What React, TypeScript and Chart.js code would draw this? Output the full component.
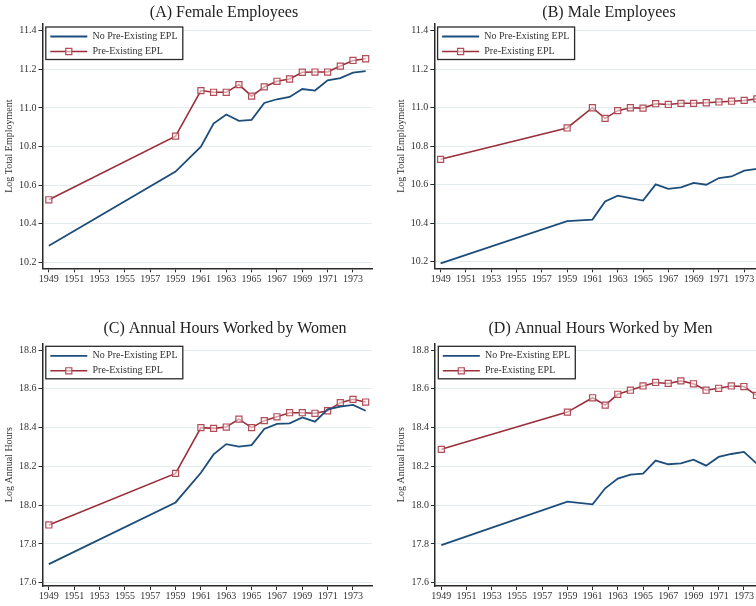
import React, { useEffect, useRef } from "react";
import { Chart, registerables } from "chart.js";

Chart.register(...registerables);

// ---------- data ----------
const years = [1949, 1959, 1961, 1962, 1963, 1964, 1965, 1966, 1967, 1968, 1969, 1970, 1971, 1972, 1973, 1974];
const xTickYears = [1949, 1951, 1953, 1955, 1957, 1959, 1961, 1963, 1965, 1967, 1969, 1971, 1973];
const employmentTicks = [10.2, 10.4, 10.6, 10.8, 11.0, 11.2, 11.4];
const hoursTicks = [17.6, 17.8, 18.0, 18.2, 18.4, 18.6, 18.8];
const seriesLabels = ["No Pre-Existing EPL", "Pre-Existing EPL"];

const femaleEmpNoEPL = [10.286, 10.670, 10.799, 10.919, 10.966, 10.933, 10.938, 11.026, 11.045, 11.057, 11.098, 11.090, 11.143, 11.155, 11.183, 11.191];
const femaleEmpEPL = [10.524, 10.854, 11.090, 11.081, 11.081, 11.121, 11.061, 11.109, 11.138, 11.150, 11.185, 11.186, 11.186, 11.217, 11.246, 11.255];

const maleEmpNoEPL = [10.191, 10.410, 10.418, 10.512, 10.542, 10.529, 10.517, 10.601, 10.578, 10.585, 10.609, 10.599, 10.634, 10.642, 10.672, 10.682];
const maleEmpEPL = [10.731, 10.894, 10.999, 10.944, 10.984, 10.999, 10.997, 11.020, 11.016, 11.022, 11.022, 11.025, 11.029, 11.033, 11.037, 11.045];

const femaleHoursNoEPL = [17.696, 18.014, 18.167, 18.262, 18.315, 18.302, 18.310, 18.393, 18.419, 18.422, 18.453, 18.431, 18.494, 18.508, 18.517, 18.487];
const femaleHoursEPL = [17.898, 18.164, 18.400, 18.396, 18.403, 18.444, 18.400, 18.436, 18.456, 18.477, 18.477, 18.474, 18.487, 18.529, 18.546, 18.532];

const maleHoursNoEPL = [17.794, 18.018, 18.004, 18.087, 18.137, 18.158, 18.163, 18.230, 18.211, 18.216, 18.235, 18.204, 18.249, 18.264, 18.275, 18.216];
const maleHoursEPL = [18.288, 18.480, 18.554, 18.516, 18.572, 18.593, 18.615, 18.633, 18.628, 18.641, 18.626, 18.593, 18.603, 18.615, 18.612, 18.566];

// ---------- styling ----------
const FONT = '"Liberation Serif", "DejaVu Serif", "Times New Roman", serif';
const BLUE = "#1d4d7a";
const RED = "#9a2f3a";
const TEXT = "#333333";
const AXIS = "#2a2a2a";
const GRID = "#e3edef";

const boxLegend = {
  id: "boxLegend",
  afterDraw(chart: any) {
    const { ctx, chartArea } = chart;
    const x0 = chartArea.left + 3.3;
    const y0 = chartArea.top + 3;
    const w = 137;
    const h = 32.5;
    ctx.save();
    ctx.fillStyle = "#ffffff";
    ctx.fillRect(x0, y0, w, h);
    ctx.strokeStyle = AXIS;
    ctx.lineWidth = 1.3;
    ctx.strokeRect(x0, y0, w, h);
    chart.data.datasets.forEach((ds: any, i: number) => {
      const y = y0 + 9.5 + i * 15;
      ctx.strokeStyle = ds.borderColor;
      ctx.lineWidth = ds.borderWidth;
      ctx.beginPath();
      ctx.moveTo(x0 + 4.5, y);
      ctx.lineTo(x0 + 41.5, y);
      ctx.stroke();
      if (ds.pointRadius > 0) {
        const s = ds.pointRadius * Math.SQRT1_2;
        const cx = x0 + 23;
        ctx.fillStyle = ds.pointBackgroundColor;
        ctx.strokeStyle = ds.pointBorderColor;
        ctx.lineWidth = ds.pointBorderWidth;
        ctx.beginPath();
        ctx.rect(cx - s, y - s, 2 * s, 2 * s);
        ctx.fill();
        ctx.stroke();
      }
      ctx.fillStyle = TEXT;
      ctx.font = `10px ${FONT}`;
      ctx.textBaseline = "middle";
      ctx.textAlign = "left";
      ctx.fillText(ds.label, x0 + 46.7, y);
    });
    ctx.restore();
  },
};

type PanelSpec = {
  title: string;
  yTitle: string;
  noEPL: number[];
  epl: number[];
  yTicks: number[];
  yMin: number;
  yMax: number;
  left: number;
  top: number;
  width: number;
  height: number;
  yAxisWidth: number;
  rightPad: number;
  titleCenter: number;
  chartTop: number;
  chartBottom: number;
  yTitlePad: number;
  xTickPad: number;
};

function Panel({ spec }: { spec: PanelSpec }) {
  const ref = useRef<HTMLCanvasElement | null>(null);
  useEffect(() => {
    if (!ref.current) return;
    const s = spec;
    const chart = new Chart(ref.current, {
      type: "line",
      data: {
        datasets: [
          {
            label: seriesLabels[0],
            data: years.map((x, i) => ({ x, y: s.noEPL[i] })),
            borderColor: BLUE,
            borderWidth: 1.8,
            pointRadius: 0,
            tension: 0,
            yAxisID: "y",
          },
          {
            label: seriesLabels[1],
            data: years.map((x, i) => ({ x, y: s.epl[i] })),
            borderColor: RED,
            borderWidth: 1.6,
            pointStyle: "rect",
            pointRadius: 4.3,
            pointBorderColor: "#b04d59",
            pointBackgroundColor: "rgba(255,240,242,0.6)",
            pointBorderWidth: 1.2,
            tension: 0,
            yAxisID: "y",
          },
        ],
      },
      options: {
        responsive: false,
        animation: false,
        devicePixelRatio: 1,
        layout: { padding: 0 },
        plugins: {
          legend: { display: false },
          tooltip: { enabled: false },
          title: {
            display: true,
            text: s.title,
            color: "#222222",
            font: { family: FONT, size: 16, weight: "normal", lineHeight: 1.2 },
            padding: { top: s.titleCenter - 9.6, bottom: s.chartTop - s.titleCenter - 9.6 },
          },
        },
        scales: {
          x: {
            type: "linear",
            min: 1948.5,
            max: 1974.5,
            afterBuildTicks: (sc: any) => {
              sc.ticks = xTickYears.map((v) => ({ value: v }));
            },
            afterFit: (sc: any) => {
              sc.height = s.height - s.chartBottom;
            },
            ticks: {
              autoSkip: false,
              maxRotation: 0,
              minRotation: 0,
              padding: s.xTickPad,
              color: TEXT,
              font: { family: FONT, size: 10 },
              callback: (v: any) => String(v),
            },
            grid: {
              display: true,
              drawOnChartArea: false,
              drawTicks: true,
              tickLength: 4,
              tickColor: AXIS,
              tickWidth: 1,
            },
            border: { display: true, color: AXIS, width: 1.5 },
          },
          y: {
            type: "linear",
            position: "left",
            min: s.yMin,
            max: s.yMax,
            afterBuildTicks: (sc: any) => {
              sc.ticks = s.yTicks.map((v) => ({ value: v }));
            },
            afterFit: (sc: any) => {
              sc.width = s.yAxisWidth;
            },
            ticks: {
              padding: 2,
              color: TEXT,
              font: { family: FONT, size: 10 },
              callback: (v: any) => Number(v).toFixed(1),
            },
            grid: {
              color: GRID,
              lineWidth: 1,
              drawTicks: true,
              tickLength: 4,
              tickColor: AXIS,
              tickWidth: 1,
            },
            border: { display: true, color: AXIS, width: 1.5 },
            title: {
              display: true,
              text: s.yTitle,
              color: TEXT,
              font: { family: FONT, size: 10, lineHeight: 1.2 },
              padding: { top: s.yTitlePad, bottom: 0 },
            },
          },
          yPad: {
            type: "linear",
            position: "right",
            display: true,
            grid: { display: false, drawTicks: false },
            border: { display: false },
            ticks: { display: false },
            afterFit: (sc: any) => {
              sc.width = s.rightPad;
            },
          },
        },
      } as any,
      plugins: [boxLegend],
    });
    return () => chart.destroy();
  }, [spec]);

  return (
    <canvas
      ref={ref}
      width={spec.width}
      height={spec.height}
      style={{
        position: "absolute",
        left: spec.left,
        top: spec.top,
        width: spec.width,
        height: spec.height,
      }}
    />
  );
}

const panels: PanelSpec[] = [
  {
    title: "(A) Female Employees",
    yTitle: "Log Total Employment",
    noEPL: femaleEmpNoEPL,
    epl: femaleEmpEPL,
    yTicks: employmentTicks,
    yMin: 10.169,
    yMax: 11.435,
    left: 0,
    top: 0,
    width: 448,
    height: 300,
    yAxisWidth: 42.5,
    rightPad: 76,
    titleCenter: 13,
    chartTop: 24,
    chartBottom: 268.3,
    yTitlePad: 3.2,
    xTickPad: 1,
  },
  {
    title: "(B) Male Employees",
    yTitle: "Log Total Employment",
    noEPL: maleEmpNoEPL,
    epl: maleEmpEPL,
    yTicks: employmentTicks,
    yMin: 10.165,
    yMax: 11.434,
    left: 392,
    top: 0,
    width: 434,
    height: 300,
    yAxisWidth: 42.3,
    rightPad: 62.8,
    titleCenter: 13,
    chartTop: 24,
    chartBottom: 268.3,
    yTitlePad: 3.8,
    xTickPad: 1,
  },
  {
    title: "(C) Annual Hours Worked by Women",
    yTitle: "Log Annual Hours",
    noEPL: femaleHoursNoEPL,
    epl: femaleHoursEPL,
    yTicks: hoursTicks,
    yMin: 17.583,
    yMax: 18.835,
    left: 0,
    top: 300,
    width: 450,
    height: 306,
    yAxisWidth: 42.5,
    rightPad: 78,
    titleCenter: 29,
    chartTop: 43.3,
    chartBottom: 286,
    yTitlePad: 3.2,
    xTickPad: 0,
  },
  {
    title: "(D) Annual Hours Worked by Men",
    yTitle: "Log Annual Hours",
    noEPL: maleHoursNoEPL,
    epl: maleHoursEPL,
    yTicks: hoursTicks,
    yMin: 17.583,
    yMax: 18.835,
    left: 392,
    top: 300,
    width: 417.4,
    height: 306,
    yAxisWidth: 43,
    rightPad: 46.2,
    titleCenter: 29,
    chartTop: 43.3,
    chartBottom: 286,
    yTitlePad: 3.8,
    xTickPad: 0,
  },
];

export default function App() {
  return (
    <div
      style={{
        position: "fixed",
        left: 0,
        top: 0,
        width: 756,
        height: 606,
        overflow: "hidden",
        background: "#ffffff",
      }}
    >
      {panels.map((p) => (
        <Panel key={p.title} spec={p} />
      ))}
    </div>
  );
}
